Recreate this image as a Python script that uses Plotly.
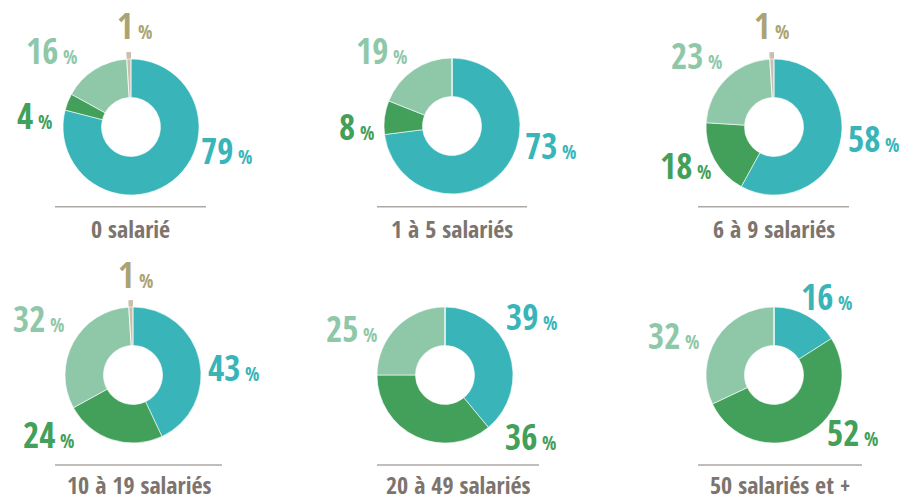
import plotly.graph_objects as go

# ---- data ----
categories = ["0 salarié", "1 à 5 salariés", "6 à 9 salariés",
              "10 à 19 salariés", "20 à 49 salariés", "50 salariés et +"]
segments = ["teal", "green", "light", "tan"]
teal_vals = [79, 73, 58, 43, 39, 16]
green_vals = [4, 8, 18, 24, 36, 52]
light_vals = [16, 19, 23, 32, 25, 32]
tan_vals = [1, 0, 1, 1, 0, 0]

# ---- styles / layout ----
W, H = 899, 497
slice_colors = ["#39b5b9", "#42a05a", "#8fc8a9", "#c9bfae"]
label_colors = ["#39b5b9", "#42a05a", "#8fc8a9", "#aba373"]
FONT = "Open Sans Condensed, Roboto Condensed, sans-serif"

centers = [(131, 127), (452, 126), (774, 127), (133, 375), (445, 375), (774, 375)]
R = 68
R_TAN = 75
HOLE_R = 29.5

# label anchor points (left x, vertical centre) per chart per segment
label_pos = [
    [(200, 150.5), (16, 115.5), (25, 50), (116, 25)],
    [(524, 146), (338, 126), (355, 50.5), None],
    [(847, 138.5), (659, 165.5), (670, 55.5), (753, 25.5)],
    [(207, 367.5), (22, 434), (12, 318), (117, 274.5)],
    [(505, 316.7), (504, 436), (325, 328.7), None],
    [(800, 296), (826, 432), (647, 335.3), None],
]
rule_y = [206.7, 206.7, 206.7, 465, 465, 465]
rule_x = [(55, 206), (377, 527), (698, 849), (55, 222), (377, 539), (698, 862)]
cat_y = [228, 228, 228, 484, 484, 484]


def dom(cx, cy, r):
    return dict(x=[(cx - r) / W, (cx + r) / W],
                y=[1 - (cy + r) / H, 1 - (cy - r) / H])


fig = go.Figure()
annotations = []
shapes = []
for i, cat in enumerate(categories):
    vals = [teal_vals[i], green_vals[i], light_vals[i], tan_vals[i]]
    cx, cy = centers[i]
    # tan slice drawn slightly longer (underneath)
    fig.add_trace(go.Pie(
        values=vals, labels=segments, sort=False, direction="clockwise",
        rotation=0, hole=HOLE_R / R_TAN, domain=dom(cx, cy, R_TAN),
        marker=dict(colors=["rgba(0,0,0,0)"] * 3 + [slice_colors[3]],
                    line=dict(width=0)),
        textinfo="none", hoverinfo="skip", showlegend=False))
    fig.add_trace(go.Pie(
        values=vals, labels=segments, sort=False, direction="clockwise",
        rotation=0, hole=HOLE_R / R, domain=dom(cx, cy, R),
        marker=dict(colors=slice_colors[:3] + ["rgba(0,0,0,0)"],
                    line=dict(color="white", width=0.6)),
        textinfo="none", hoverinfo="label+value", showlegend=False))
    for j, v in enumerate(vals):
        pos = label_pos[i][j]
        if v == 0 or pos is None:
            continue
        annotations.append(dict(
            x=pos[0] / W, y=1 - pos[1] / H, xref="paper", yref="paper",
            xanchor="left", yanchor="middle", showarrow=False, borderpad=0,
            text=f"<b>{v}<span style='font-size:19px'> %</span></b>",
            font=dict(family=FONT, size=35, color=label_colors[j])))
    x0, x1 = rule_x[i]
    shapes.append(dict(type="line", xref="paper", yref="paper",
                       x0=x0 / W, x1=x1 / W, y0=1 - rule_y[i] / H, y1=1 - rule_y[i] / H,
                       line=dict(color="#aea8a4", width=1.5)))
    annotations.append(dict(
        x=(x0 + x1) / 2 / W, y=1 - cat_y[i] / H, xref="paper", yref="paper",
        xanchor="center", yanchor="middle", showarrow=False, borderpad=0,
        text=f"<b>{cat}</b>",
        font=dict(family=FONT, size=24, color="#7d746e")))

fig.update_layout(
    width=W, height=H, margin=dict(l=0, r=0, t=0, b=0),
    paper_bgcolor="white", plot_bgcolor="white",
    annotations=annotations, shapes=shapes,
    font=dict(family=FONT),
)

fig.write_html("out.html", post_script="document.body.style.margin='0';",
               config={"displayModeBar": False})
